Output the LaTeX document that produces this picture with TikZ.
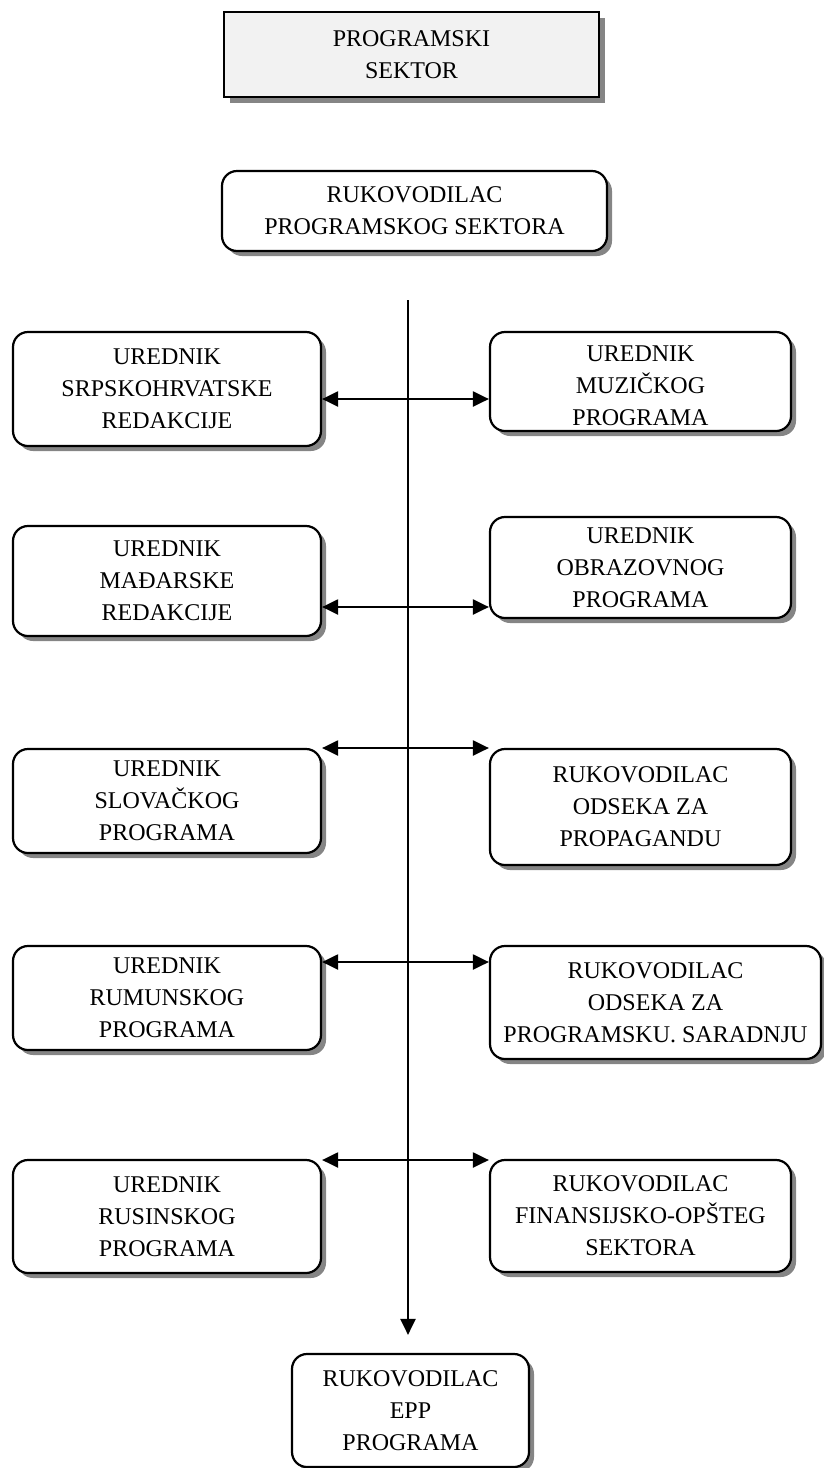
\documentclass[tikz,border=0pt]{standalone}
\usepackage{fontspec}
\setmainfont{Liberation Serif}
\usetikzlibrary{arrows.meta,shadows}
\begin{document}
\begin{tikzpicture}[x=1pt,y=-1pt,
  txt/.style={align=center,font=\fontsize{24}{32}\selectfont,inner sep=0pt},
  rbox/.style={draw=black,line width=2.2pt,rounded corners=15pt,fill=white,inner sep=0pt,
    drop shadow={shadow xshift=5pt,shadow yshift=-5pt,fill=black!48,opacity=1},
    align=center,font=\fontsize{24}{32}\selectfont},
  sbox/.style={draw=black,line width=2.2pt,fill=black!5,inner sep=0pt,
    drop shadow={shadow xshift=6pt,shadow yshift=-6pt,fill=black!48,opacity=1},
    align=center,font=\fontsize{24}{32}\selectfont},
  conn/.style={line width=2.2pt,-{Triangle[length=16pt,width=15pt]}},
  dconn/.style={line width=2.2pt,{Triangle[length=16pt,width=15pt]}-{Triangle[length=16pt,width=15pt]}}
]
\useasboundingbox (0,0) rectangle (824,1468);

\node[sbox,minimum width=375pt,minimum height=85pt] (T) at (411.5,54.5) {PROGRAMSKI\\SEKTOR};
\node[rbox,minimum width=385pt,minimum height=80pt] (P) at (414.5,211) {RUKOVODILAC\\PROGRAMSKOG SEKTORA};

% left column
\node[rbox,minimum width=308pt,minimum height=114pt] (L1) at (167,389) {UREDNIK\\SRPSKOHRVATSKE\\REDAKCIJE};
\node[rbox,minimum width=308pt,minimum height=110pt] (L2) at (167,581) {UREDNIK\\MAĐARSKE\\REDAKCIJE};
\node[rbox,minimum width=308pt,minimum height=104pt] (L3) at (167,801) {UREDNIK\\SLOVAČKOG\\PROGRAMA};
\node[rbox,minimum width=308pt,minimum height=104pt] (L4) at (167,998) {UREDNIK\\RUMUNSKOG\\PROGRAMA};
\node[rbox,minimum width=308pt,minimum height=113pt] (L5) at (167,1216.5) {UREDNIK\\RUSINSKOG\\PROGRAMA};

% right column
\node[rbox,minimum width=301pt,minimum height=99pt] (R1) at (640.5,381.5) {};
\begin{scope}
  \clip (R1.north west) rectangle ([yshift=5.5pt]R1.south east);
  \node[txt] (R1t) at (640.5,386) {UREDNIK\\MUZIČKOG\\PROGRAMA};
\end{scope}
\node[rbox,minimum width=301pt,minimum height=101pt] (R2) at (640.5,567.5) {UREDNIK\\OBRAZOVNOG\\PROGRAMA};
\node[rbox,minimum width=301pt,minimum height=116pt] (R3) at (640.5,807) {RUKOVODILAC\\ODSEKA ZA\\PROPAGANDU};
\node[rbox,minimum width=331pt,minimum height=113pt] (R4) at (655.5,1002.5) {RUKOVODILAC\\ODSEKA ZA\\PROGRAMSKU. SARADNJU};
\node[rbox,minimum width=301pt,minimum height=112pt] (R5) at (640.5,1216) {RUKOVODILAC\\FINANSIJSKO-OPŠTEG\\SEKTORA};

\node[rbox,minimum width=237pt,minimum height=113pt] (E) at (410.5,1410.5) {RUKOVODILAC\\EPP\\PROGRAMA};

% spine
\coordinate (top) at (408,300);
\coordinate (s1) at (408,399);
\coordinate (s2) at (408,607);
\coordinate (s3) at (408,748);
\coordinate (s4) at (408,962);
\coordinate (s5) at (408,1160);
\draw[conn,shorten >=18pt] (top) -- (top |- E.north);

\draw[dconn] (L1.east |- s1) -- (R1.west |- s1);
\draw[dconn] (L2.east |- s2) -- (R2.west |- s2);
\draw[dconn] (L3.east |- s3) -- (R3.west |- s3);
\draw[dconn] (L4.east |- s4) -- (R4.west |- s4);
\draw[dconn] (L5.east |- s5) -- (R5.west |- s5);
\end{tikzpicture}
\end{document}
